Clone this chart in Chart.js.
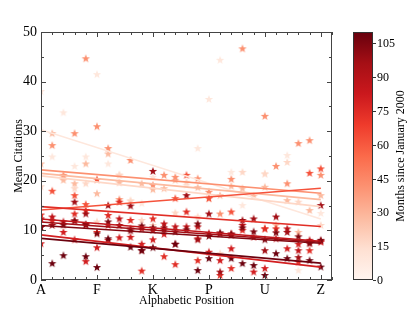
<!DOCTYPE html>
<html>
<head>
<meta charset="utf-8">
<script src="https://cdn.jsdelivr.net/npm/chart.js@4.4.0/dist/chart.umd.min.js"></script>
<style>
  html, body { margin: 0; padding: 0; background: #fff; }
</style>
</head>
<body>
<canvas id="chart" width="415" height="312"></canvas>
<script>
// Categories and ticks
const letters = "ABCDEFGHIJKLMNOPQRSTUVWXYZ".split("");
const xTickValues = [0, 5, 10, 15, 20, 25];
const xTickLabels = ["A", "F", "K", "P", "U", "Z"];
const yTickValues = [0, 10, 20, 30, 40, 50];
const cbTickValues = [0, 15, 30, 45, 60, 75, 90, 105];
const cbMax = 110;

// Months since January 2000, one per series
const months = [9, 17, 28, 42, 62, 74, 80, 86, 97, 104, 109];

// Mean citations per letter (A..Z), null = no point
const cit09 = [38.1, 24.9, 33.8, 23.0, 24.9, 41.5, 23.5, 21.3, 16.1, 15.5, 20.8, null, null, 19.2, 26.6, 36.5, 44.4, 21.8, 15.1, null, 21.4, null, 25.2, 2.0, null, 13.5];
const cit17 = [18.9, null, 20.8, 18.5, 19.5, 11.8, null, 21.2, 16.0, 12.1, 11.1, null, 13.6, 19.8, 12.8, null, 5.4, null, 21.8, null, 21.5, null, 23.8, 15.8, null, 11.1];
const cit28 = [23.5, 29.6, 20.2, 19.5, 23.5, 17.5, 25.5, 19.7, null, 19.5, 18.3, 18.5, 20.2, null, 18.7, 16.5, 17.1, 19.0, 18.5, 17.0, 18.8, 11.1, 16.1, 9.7, 14.1, 17.1];
const cit42 = [null, 27.2, 21.2, 29.6, 44.7, 31.0, 26.6, 16.3, 24.2, null, 19.2, 21.2, 20.8, null, 20.5, 17.8, 13.4, 20.4, 46.7, null, 33.1, 23.0, 19.5, 27.6, 28.2, 21.2];
const cit62 = [null, 18.0, null, 17.1, 15.3, 20.3, null, null, null, null, null, null, 16.5, 21.2, null, 16.5, null, 13.8, null, null, 10.4, null, null, null, 21.6, 22.5];
const cit74 = [13.2, 12.0, null, 13.4, 14.1, 9.7, 13.1, 15.8, 12.1, 1.9, 12.4, 4.8, 3.2, 13.8, 4.0, null, 1.0, 2.4, 10.1, null, 10.4, 10.4, null, 3.7, 6.0, null];
const cit80 = [7.4, null, 9.7, 8.2, 3.8, 6.6, 8.1, 8.6, 8.7, 7.3, 8.2, 9.3, null, null, 8.4, 5.7, 4.0, 6.4, null, 1.7, 2.4, null, 6.4, 7.3, null, 7.7];
const cit86 = [12.4, 12.8, 11.8, 12.0, 11.1, null, 11.1, 12.4, 10.4, 10.4, 10.1, 11.4, 10.8, 10.8, 10.8, 9.5, 9.4, 9.4, 11.1, 8.7, null, 8.4, 10.4, 6.0, 8.1, 7.9];
const cit97 = [10.7, 11.1, null, 15.8, 13.4, null, 15.1, 11.1, 15.0, 6.0, 22.0, 10.6, 7.3, 17.1, 8.2, 13.4, 1.7, 9.1, 12.1, 12.4, 6.0, 12.8, 9.7, 4.6, 7.4, 15.1];
const cit104 = [10.7, null, 11.2, 12.0, 11.3, 9.4, 11.8, null, 10.0, 11.0, 10.6, 10.2, 9.8, 10.2, 11.4, 8.9, 9.6, 9.3, 10.6, 9.8, 8.2, 9.6, null, 8.8, 7.6, 8.1];
const cit109 = [null, 3.4, 5.0, null, 4.8, 2.6, 8.4, null, 6.7, 6.0, 6.6, null, 7.3, null, 2.0, 4.4, null, 4.4, 3.4, 3.0, 1.0, 5.4, 4.4, null, 4.0, 2.7];

// Fitted trend lines: value at A and at Z
const fitAtA = [30.3, 21.0, 21.5, 22.2, 14.1, 14.8, 9.1, 12.3, 11.7, 11.0, 8.4];
const fitAtZ = [12.3, 14.8, 16.2, 17.5, 18.5, 10.8, 2.6, 7.8, 7.6, 7.4, 3.4];

const series = [cit09, cit17, cit28, cit42, cit62, cit74, cit80, cit86, cit97, cit104, cit109];

// matplotlib "Reds"
const redsStops = ["#fff5f0", "#fee0d2", "#fcbba1", "#fc9272", "#fb6a4a", "#ef3b2c", "#cb181d", "#a50f15", "#67000d"];
function hexRgb(h) {
    return [parseInt(h.substr(1, 2), 16), parseInt(h.substr(3, 2), 16), parseInt(h.substr(5, 2), 16)];
}
function reds(t) {
    t = Math.max(0, Math.min(1, t));
    const p = t * (redsStops.length - 1);
    const i = Math.min(Math.floor(p), redsStops.length - 2);
    const f = p - i;
    const a = hexRgb(redsStops[i]), b = hexRgb(redsStops[i + 1]);
    return "rgb(" + a.map((v, k) => Math.round(v + (b[k] - v) * f)).join(",") + ")";
}

function starImage(color) {
    const c = document.createElement("canvas");
    c.width = 10;
    c.height = 10;
    const g = c.getContext("2d");
    g.fillStyle = color;
    g.beginPath();
    for (let k = 0; k < 10; k++) {
        const r = k % 2 ? 1.8 : 4.4;
        const a = -Math.PI / 2 + k * Math.PI / 5;
        g.lineTo(5 + r * Math.cos(a), 5.4 + r * Math.sin(a));
    }
    g.closePath();
    g.fill();
    return c;
}

const serif = "'Liberation Serif', 'DejaVu Serif', serif";
const datasets = [];

series.forEach((vals, s) => {
    const col = reds(months[s] / cbMax);
    datasets.push({
        label: "m" + months[s],
        data: vals.map((v, i) => (v === null ? null : { x: i, y: v })).filter(p => p),
        pointStyle: starImage(col),
        pointRadius: 5,
        order: 20 - s
    });
    datasets.push({
        label: "fit" + months[s],
        data: [{ x: 0, y: fitAtA[s] }, { x: letters.length - 1, y: fitAtZ[s] }],
        showLine: true,
        borderColor: col,
        borderWidth: 1.6,
        pointRadius: 0,
        order: 5 - s / 20
    });
});

// Frame, inward ticks and the colour bar
const decorations = {
    id: "decorations",
    afterDraw(chart) {
        const ctx = chart.ctx;
        const a = chart.chartArea;
        const xs = chart.scales.x, ys = chart.scales.y;
        ctx.save();
        ctx.strokeStyle = "#444";
        ctx.lineWidth = 1;
        ctx.strokeRect(a.left + 0.5, a.top + 0.5, a.right - a.left - 1, a.bottom - a.top - 1);
        ctx.beginPath();
        for (let i = 0; i <= 26; i++) {
            const px = Math.round(xs.getPixelForValue(i)) + 0.5;
            const len = i % 5 === 0 ? 5 : 3;
            ctx.moveTo(px, a.bottom);
            ctx.lineTo(px, a.bottom - len);
            ctx.moveTo(px, a.top);
            ctx.lineTo(px, a.top + len);
        }
        for (let v = 0; v <= 50; v += 5) {
            const py = Math.round(ys.getPixelForValue(v)) + 0.5;
            const len = v % 10 === 0 ? 5 : 3;
            ctx.moveTo(a.left, py);
            ctx.lineTo(a.left + len, py);
            ctx.moveTo(a.right, py);
            ctx.lineTo(a.right - len, py);
        }
        ctx.stroke();

        // colour bar
        const cbL = 353, cbR = 373, cbT = a.top, cbB = a.bottom;
        const grad = ctx.createLinearGradient(0, cbB, 0, cbT);
        redsStops.forEach((c, i) => grad.addColorStop(i / (redsStops.length - 1), c));
        ctx.fillStyle = grad;
        ctx.fillRect(cbL, cbT, cbR - cbL, cbB - cbT);
        ctx.strokeStyle = "#333";
        ctx.strokeRect(cbL + 0.5, cbT + 0.5, cbR - cbL - 1, cbB - cbT - 1);
        ctx.fillStyle = "#000";
        ctx.font = "12px " + serif;
        ctx.textBaseline = "middle";
        ctx.textAlign = "left";
        ctx.beginPath();
        cbTickValues.forEach(v => {
            const py = Math.round(cbB - (v / cbMax) * (cbB - cbT)) + 0.5;
            ctx.moveTo(cbR, py);
            ctx.lineTo(cbR + 3, py);
            ctx.fillText(String(v), cbR + 4, py);
        });
        ctx.stroke();
        ctx.translate(401, (cbT + cbB) / 2);
        ctx.rotate(-Math.PI / 2);
        ctx.textAlign = "center";
        ctx.font = "12px " + serif;
        ctx.fillText("Months since January 2000", 0, 0);
        ctx.restore();
    }
};

new Chart(document.getElementById("chart"), {
    type: "scatter",
    data: { datasets },
    plugins: [decorations],
    options: {
        responsive: false,
        animation: false,
        devicePixelRatio: 1,
        layout: { padding: { left: 0, top: 32, right: 83, bottom: 0 } },
        plugins: { legend: { display: false }, tooltip: { enabled: false } },
        scales: {
            x: {
                type: "linear",
                min: 0,
                max: 26,
                afterBuildTicks: s => { s.ticks = xTickValues.map(v => ({ value: v })); },
                afterFit: s => { s.height = 32; },
                ticks: {
                    callback: v => xTickLabels[xTickValues.indexOf(v)],
                    font: { family: serif, size: 14 },
                    color: "#000",
                    padding: 2,
                    maxRotation: 0
                },
                grid: { display: false, drawTicks: false },
                border: { display: false },
                title: {
                    display: true,
                    text: "Alphabetic Position",
                    font: { family: serif, size: 12 },
                    color: "#000",
                    padding: { top: 0, bottom: 4 }
                }
            },
            y: {
                min: 0,
                max: 50,
                afterBuildTicks: s => { s.ticks = yTickValues.map(v => ({ value: v })); },
                afterFit: s => { s.width = 41; },
                ticks: {
                    font: { family: serif, size: 14 },
                    color: "#000",
                    padding: 4
                },
                grid: { display: false, drawTicks: false },
                border: { display: false },
                title: {
                    display: true,
                    text: "Mean Citations",
                    font: { family: serif, size: 12 },
                    color: "#000",
                    padding: { top: 12, bottom: 0 }
                }
            }
        }
    }
});
</script>
</body>
</html>
